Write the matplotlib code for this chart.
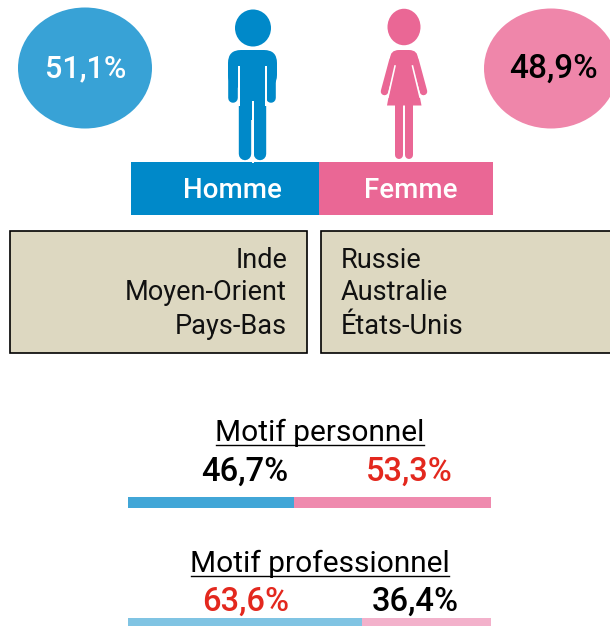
import matplotlib
matplotlib.use("Agg")
import matplotlib.pyplot as plt
from matplotlib.patches import Ellipse, Rectangle, Polygon, FancyBboxPatch

plt.rcParams['font.family'] = ['Roboto', 'DejaVu Sans']

W, H = 610, 626

pays_homme = ['Inde', 'Moyen-Orient', 'Pays-Bas']
pays_femme = ['Russie', 'Australie', 'États-Unis']
sexes = ['Homme', 'Femme']
part_sexe = ['51,1%', '48,9%']

motifs = ['Motif personnel', 'Motif professionnel']
labels_homme = ['46,7%', '63,6%']
labels_femme = ['53,3%', '36,4%']
# shares as the bars are actually drawn in the picture
bar_homme = [45.8, 64.5]
bar_femme = [54.2, 35.5]

BLEU = '#0089c9'
ROSE = '#ea6795'
BLEU2 = '#38a2d6'
ROSE2 = '#ef86aa'
SABLE = '#ddd8c1'
ROUGE = '#e3281e'


def px(w):
    return w * 72 / 100


fig = plt.figure(figsize=(W / 100, H / 100), dpi=100)
ax = fig.add_axes([0, 0, 1, 1])
ax.set_xlim(0, W)
ax.set_ylim(H, 0)
ax.axis('off')

# circles at the top
ax.add_patch(Ellipse((85, 68), 134, 121, fc=BLEU2, ec='none'))
ax.add_patch(Ellipse((551, 68.5), 134, 120, fc=ROSE2, ec='none'))
ax.text(85.5, 69, part_sexe[0], color='white', fontsize=22, ha='center', va='center', fontweight='medium')
ax.text(553, 69, part_sexe[1], color='black', fontsize=24, ha='center', va='center', fontweight='medium')

# man
ax.add_patch(Ellipse((253, 28), 36, 37, fc=BLEU, ec='none'))
ax.add_patch(FancyBboxPatch((241, 63), 23, 12, boxstyle='round,pad=13,rounding_size=13',
                            fc=BLEU, ec='none'))
ax.add_patch(Rectangle((239, 80), 26, 40, fc=BLEU, ec='none'))
for x in [232.8, 271.2]:
    ax.plot([x, x], [65, 98], color=BLEU, lw=px(9.6), solid_capstyle='round')
for x in [245.4, 259.6]:
    ax.plot([x, x], [100, 153.5], color=BLEU, lw=px(12.4), solid_capstyle='round')
for x in [238.5, 265.5]:
    ax.plot([x, x], [67, 105], color='white', lw=px(2))
ax.plot([252.5, 252.5], [102, 162], color='white', lw=px(2))

# woman
ax.add_patch(Ellipse((404, 27), 33, 36.5, fc=ROSE, ec='none'))
ax.add_patch(FancyBboxPatch((398, 58), 12, 6, boxstyle='round,pad=8,rounding_size=9',
                            fc=ROSE, ec='none'))
ax.add_patch(Polygon([(395, 62), (413, 62), (421.5, 105.5), (387, 105.5)], fc=ROSE, ec='none'))
ax.plot([393, 384.5], [60, 91.5], color=ROSE, lw=px(7.5), solid_capstyle='round')
ax.plot([415, 423.5], [60, 91.5], color=ROSE, lw=px(7.5), solid_capstyle='round')
ax.plot([395, 388], [66, 97], color='white', lw=px(1.6))
ax.plot([412.5, 420], [66, 97], color='white', lw=px(1.6))
for x in [399, 409]:
    ax.plot([x, x], [103, 155], color=ROSE, lw=px(8), solid_capstyle='round')

# Homme / Femme band
ax.add_patch(Rectangle((131, 162), 188, 53, fc=BLEU, ec='none'))
ax.add_patch(Rectangle((319, 162), 174, 53, fc=ROSE, ec='none'))
ax.text(232, 190, sexes[0], color='white', fontsize=20, ha='center', va='center', fontweight='medium')
ax.text(411, 190, sexes[1], color='white', fontsize=20, ha='center', va='center', fontweight='medium')

# country boxes
ax.add_patch(Rectangle((10, 231), 297, 122, fc=SABLE, ec='black', lw=1.2))
ax.add_patch(Rectangle((321, 231), 300, 122, fc=SABLE, ec='black', lw=1.2))
for y, a, b in zip([260, 293, 327], pays_homme, pays_femme):
    ax.text(287, y, a, fontsize=19.5, ha='right', va='center', color='#111111')
    ax.text(341, y, b, fontsize=19.5, ha='left', va='center', color='#111111')

# motif titles
ax.text(320, 433, motifs[0], fontsize=21.5, ha='center', va='center')
ax.plot([216, 424], [445, 445], color='black', lw=1)
ax.text(320, 564, motifs[1], fontsize=21.5, ha='center', va='center')
ax.plot([191, 449], [576, 576], color='black', lw=1)

ax.text(245, 472, labels_homme[0], fontsize=23.5, ha='center', va='center', color='black', fontweight='medium')
ax.text(409, 472, labels_femme[0], fontsize=23.5, ha='center', va='center', color=ROUGE, fontweight='medium')
ax.text(246, 602, labels_homme[1], fontsize=23.5, ha='center', va='center', color=ROUGE, fontweight='medium')
ax.text(415, 602, labels_femme[1], fontsize=23.5, ha='center', va='center', color='black', fontweight='medium')

# motif bars on their own 0-100 axes
ax2 = fig.add_axes([128 / W, 1 - 508 / H, 363 / W, 11 / H])
ax2.barh([0], bar_homme[0], height=1, color='#41a6d7')
ax2.barh([0], bar_femme[0], left=bar_homme[0], height=1, color='#ef8aae')
ax2.set_xlim(0, 100)
ax2.set_ylim(-0.5, 0.5)
ax2.axis('off')

ax3 = fig.add_axes([128 / W, 1 - 626 / H, 363 / W, 8 / H])
ax3.barh([0], bar_homme[1], height=1, color='#80c4e3')
ax3.barh([0], bar_femme[1], left=bar_homme[1], height=1, color='#f3b1cb')
ax3.set_xlim(0, 100)
ax3.set_ylim(-0.5, 0.5)
ax3.axis('off')

fig.savefig('out.png', dpi=100)
